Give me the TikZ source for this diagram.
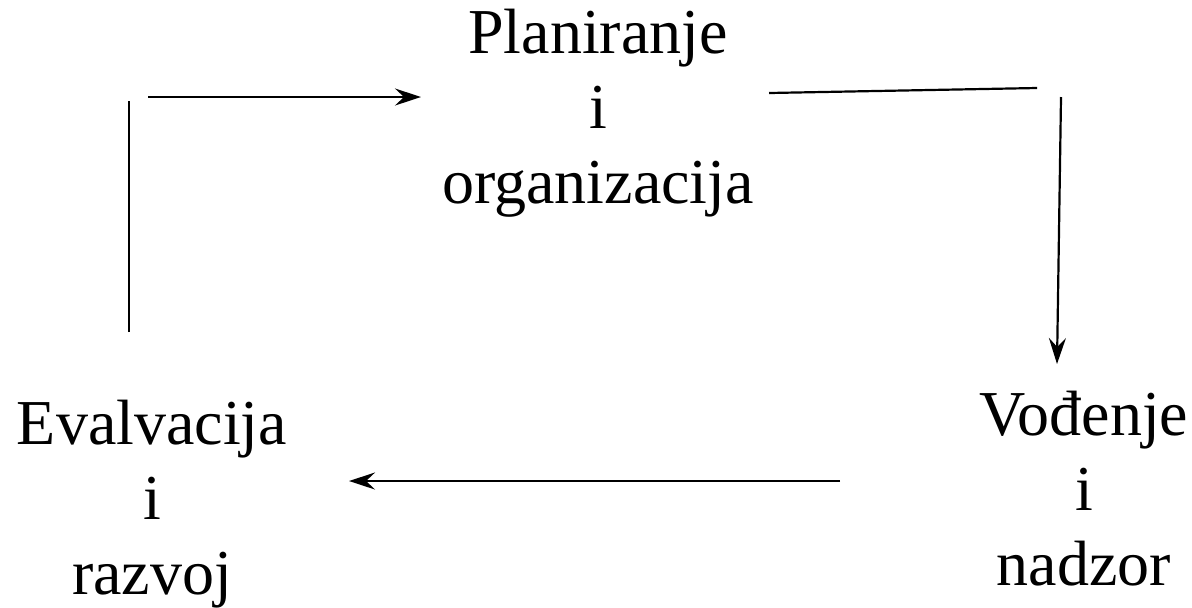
\documentclass[tikz,border=0pt]{standalone}
\usepackage{fontspec}
\setmainfont{Liberation Serif}
\usetikzlibrary{arrows.meta}

\begin{document}
\begin{tikzpicture}[x=0.5pt, y=-0.5pt, line width=1.1pt,
    faza/.style={align=center, font=\fontsize{32}{37.5}\selectfont, inner sep=0pt},
    tok/.style={-{Stealth[length=13pt, width=8.5pt, inset=4.5pt]}}]

    \useasboundingbox (0,0) rectangle (1192,607);

    \node[faza] (plan) at (598,113) {Planiranje\\i\\organizacija};
    \node[faza] (vod)  at (1084,489) {Vođenje\\i\\nadzor};
    \node[faza] (eval) at (152,504) {Evalvacija\\i\\razvoj};

    \coordinate (e1) at (129,332);
    \coordinate (e2) at (129,101);
    \coordinate (p1) at (148,97);
    \coordinate (p2) at (421,97);
    \coordinate (p3) at (769,93);
    \coordinate (p4) at (1037,88);
    \coordinate (v1) at (1061,97);
    \coordinate (v2) at (1057,364);
    \coordinate (v3) at (840,481);
    \coordinate (v4) at (349,481);

    \draw (e1) -- (e2);
    \draw[tok] (p1) -- (p2);
    \draw (p3) -- (p4);
    \draw[tok] (v1) -- (v2);
    \draw[tok] (v3) -- (v4);
\end{tikzpicture}
\end{document}
